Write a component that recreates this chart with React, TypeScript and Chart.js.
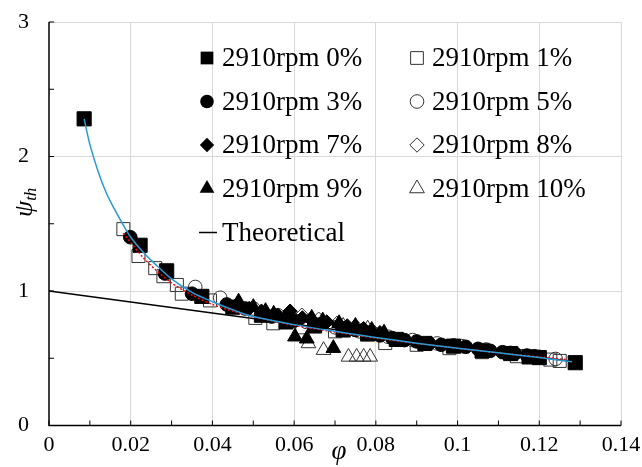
import React, { useEffect, useRef } from "react";
import { Chart, registerables } from "chart.js";

Chart.register(...registerables);

// ---- data ----
const xTicksMajor = [0, 0.02, 0.04, 0.06, 0.08, 0.1, 0.12, 0.14];
const yTicksMajor = [0, 1, 2, 3];

const rpm0: [number, number][] = [
  [0.0086, 2.28], [0.0223, 1.34], [0.0288, 1.15], [0.0374, 0.96], [0.045, 0.88],
  [0.052, 0.82], [0.058, 0.77], [0.065, 0.74], [0.072, 0.71], [0.078, 0.68],
  [0.085, 0.64], [0.092, 0.61], [0.099, 0.59], [0.106, 0.555], [0.113, 0.535],
  [0.1175, 0.51], [0.12, 0.505], [0.1288, 0.467],
];
const rpm1: [number, number][] = [
  [0.0182, 1.46], [0.0219, 1.26], [0.026, 1.17], [0.028, 1.11], [0.0313, 1.045],
  [0.0325, 0.98], [0.0394, 0.93], [0.0505, 0.8], [0.0549, 0.76], [0.062, 0.73],
  [0.07, 0.7], [0.0823, 0.613], [0.09, 0.6], [0.098, 0.575], [0.106, 0.545],
  [0.1145, 0.515], [0.1227, 0.49], [0.125, 0.48],
];
const rpm3: [number, number][] = [
  [0.0199, 1.4], [0.0284, 1.13], [0.035, 0.98], [0.0435, 0.9], [0.048, 0.87],
  [0.0545, 0.81], [0.06, 0.78], [0.066, 0.75], [0.072, 0.72], [0.075, 0.71],
  [0.078, 0.69], [0.081, 0.67], [0.084, 0.65], [0.087, 0.635], [0.09, 0.625],
  [0.093, 0.61], [0.096, 0.6], [0.099, 0.595], [0.102, 0.585], [0.105, 0.57],
  [0.108, 0.555], [0.111, 0.545], [0.114, 0.535], [0.117, 0.52], [0.12, 0.51],
];
const rpm5: [number, number][] = [
  [0.0358, 1.03], [0.0419, 0.95], [0.05, 0.87], [0.056, 0.82], [0.063, 0.77],
  [0.07, 0.73], [0.076, 0.7], [0.083, 0.66], [0.089, 0.635], [0.095, 0.61],
  [0.101, 0.59], [0.107, 0.565], [0.113, 0.54], [0.119, 0.515], [0.124, 0.495],
];
const rpm7: [number, number][] = [
  [0.046, 0.9], [0.049, 0.87], [0.052, 0.85], [0.056, 0.82], [0.059, 0.85],
  [0.062, 0.8], [0.064, 0.79], [0.068, 0.77], [0.071, 0.75], [0.073, 0.74],
  [0.077, 0.72], [0.081, 0.69],
];
const rpm8: [number, number][] = [
  [0.0619, 0.82], [0.066, 0.79], [0.0705, 0.76], [0.075, 0.74], [0.079, 0.71],
];
const rpm9: [number, number][] = [
  [0.0464, 0.92], [0.05, 0.88], [0.053, 0.85], [0.055, 0.83], [0.058, 0.81],
  [0.0602, 0.66], [0.0631, 0.645], [0.0643, 0.8], [0.067, 0.78], [0.0696, 0.575],
  [0.071, 0.76], [0.075, 0.74], [0.079, 0.71], [0.082, 0.69],
];
const rpm10: [number, number][] = [
  [0.0635, 0.61], [0.0672, 0.56], [0.072, 0.74], [0.0733, 0.51], [0.0753, 0.51],
  [0.077, 0.51], [0.078, 0.72], [0.0786, 0.51],
];
const blueCurve: [number, number][] = [
  [0.0086, 2.28], [0.01, 2.09], [0.012, 1.89], [0.014, 1.73], [0.016, 1.61],
  [0.018, 1.5], [0.02, 1.4], [0.023, 1.29], [0.026, 1.2], [0.03, 1.09],
  [0.035, 0.99], [0.04, 0.92], [0.045, 0.86], [0.05, 0.81], [0.06, 0.75],
  [0.07, 0.7], [0.08, 0.655], [0.09, 0.612], [0.1, 0.575], [0.11, 0.54],
  [0.12, 0.505], [0.128, 0.474],
];
const redCurve: [number, number][] = [
  [0.0182, 1.43], [0.02, 1.36], [0.023, 1.25], [0.026, 1.16], [0.03, 1.06],
  [0.035, 0.97], [0.04, 0.9], [0.045, 0.85], [0.05, 0.81], [0.06, 0.745],
  [0.07, 0.695], [0.08, 0.65], [0.09, 0.61], [0.1, 0.575], [0.11, 0.54],
  [0.12, 0.51], [0.1268, 0.49],
];
const theoretical: [number, number][] = [[0, 1], [0.128, 0.475]];

const seriesLabels = [
  "2910rpm 0%", "2910rpm 1%", "2910rpm 3%", "2910rpm 5%",
  "2910rpm 7%", "2910rpm 8%", "2910rpm 9%", "2910rpm 10%", "Theoretical",
];

const toPts = (a: [number, number][]) => a.map(([x, y]) => ({ x, y }));

const FONT = "'Liberation Serif', 'Times New Roman', serif";
const OPEN = "#333333";

type MarkerDef = { style: string; filled: boolean; r: number };
const markers: MarkerDef[] = [
  { style: "rect", filled: true, r: 10 },
  { style: "rect", filled: false, r: 9.2 },
  { style: "circle", filled: true, r: 6.8 },
  { style: "circle", filled: false, r: 6.8 },
  { style: "rectRot", filled: true, r: 7.2 },
  { style: "rectRot", filled: false, r: 7.2 },
  { style: "triangle", filled: true, r: 8.5 },
  { style: "triangle", filled: false, r: 8.5 },
];

function drawMarker(ctx: CanvasRenderingContext2D, m: MarkerDef, x: number, y: number, r: number) {
  ctx.save();
  ctx.beginPath();
  if (m.style === "rect") {
    const s = r * Math.SQRT1_2;
    ctx.rect(x - s, y - s, 2 * s, 2 * s);
  } else if (m.style === "circle") {
    ctx.arc(x, y, r, 0, Math.PI * 2);
  } else if (m.style === "rectRot") {
    ctx.moveTo(x - r, y);
    ctx.lineTo(x, y - r);
    ctx.lineTo(x + r, y);
    ctx.lineTo(x, y + r);
    ctx.closePath();
  } else if (m.style === "triangle") {
    ctx.moveTo(x, y - r);
    ctx.lineTo(x + r * 0.866, y + r * 0.5);
    ctx.lineTo(x - r * 0.866, y + r * 0.5);
    ctx.closePath();
  }
  if (m.filled) {
    ctx.fillStyle = "#000";
    ctx.fill();
  } else {
    ctx.strokeStyle = OPEN;
    ctx.lineWidth = 1;
    ctx.stroke();
  }
  ctx.restore();
}

const decorPlugin = {
  id: "decor",
  afterDraw(chart: any) {
    const ctx: CanvasRenderingContext2D = chart.ctx;
    const xs = chart.scales.x;
    const ys = chart.scales.y;
    const { left, right, top, bottom } = chart.chartArea;
    ctx.save();
    // axis lines
    ctx.strokeStyle = "#000";
    ctx.lineWidth = 1.5;
    ctx.beginPath();
    ctx.moveTo(left, top);
    ctx.lineTo(left, bottom);
    ctx.lineTo(right, bottom);
    ctx.stroke();
    // inward tick marks
    ctx.lineWidth = 1;
    xs.ticks.forEach((t: any) => {
      const px = xs.getPixelForValue(t.value);
      ctx.beginPath();
      ctx.moveTo(px, bottom);
      ctx.lineTo(px, bottom - 5);
      ctx.stroke();
    });
    ys.ticks.forEach((t: any) => {
      const py = ys.getPixelForValue(t.value);
      ctx.beginPath();
      ctx.moveTo(left, py);
      ctx.lineTo(left + 5, py);
      ctx.stroke();
    });

    // legend
    const rowY = [58, 101.5, 145, 188.5, 232.5];
    const colMarkX = [207, 417];
    const colTextX = [222, 432];
    ctx.font = `27px ${FONT}`;
    ctx.fillStyle = "#000";
    ctx.textBaseline = "middle";
    ctx.textAlign = "left";
    for (let i = 0; i < 8; i++) {
      const row = Math.floor(i / 2);
      const col = i % 2;
      const m = markers[i];
      drawMarker(ctx, m, colMarkX[col], rowY[row], m.style === "rect" ? 9 : m.r);
      ctx.fillText(seriesLabels[i], colTextX[col], rowY[row] + 1);
    }
    ctx.strokeStyle = "#000";
    ctx.lineWidth = 1.5;
    ctx.beginPath();
    ctx.moveTo(199, rowY[4]);
    ctx.lineTo(217, rowY[4]);
    ctx.stroke();
    ctx.fillText(seriesLabels[8], colTextX[0], rowY[4] + 1);

    // x title
    ctx.font = `italic 27px ${FONT}`;
    ctx.textAlign = "center";
    ctx.textBaseline = "alphabetic";
    ctx.fillText("\u03c6", 339, 459);

    // y title
    ctx.save();
    ctx.translate(32, 217);
    ctx.rotate(-Math.PI / 2);
    ctx.textAlign = "left";
    ctx.font = `italic 26px ${FONT}`;
    ctx.fillText("\u03c8", 0, 0);
    const w = ctx.measureText("\u03c8").width;
    ctx.font = `italic 17px ${FONT}`;
    ctx.fillText("th", w, 4);
    ctx.restore();

    ctx.restore();
  },
};

export default function App() {
  const ref = useRef<HTMLCanvasElement | null>(null);
  useEffect(() => {
    document.body.style.margin = "0";
    const canvas = ref.current!;
    const scatter = (data: [number, number][], i: number, order: number) => {
      const m = markers[i];
      return {
        label: seriesLabels[i],
        data: toPts(data),
        showLine: false,
        pointStyle: m.style,
        pointRadius: m.r,
        pointHoverRadius: m.r,
        pointBackgroundColor: m.filled ? "#000" : "rgba(0,0,0,0)",
        pointBorderColor: m.filled ? "#000" : OPEN,
        pointBorderWidth: 1,
        order,
      };
    };
    const line = (data: [number, number][], color: string, dash: number[], order: number, label: string) => ({
      label,
      data: toPts(data),
      showLine: true,
      borderColor: color,
      borderWidth: 1.5,
      borderDash: dash,
      pointRadius: 0,
      pointHoverRadius: 0,
      tension: 0.3,
      fill: false,
      order,
    });
    const chart = new Chart(canvas, {
      type: "scatter",
      data: {
        datasets: [
          line(blueCurve, "#2a9ad6", [], 0, "fit"),
          line(redCurve, "#ff0000", [2, 2], 0, "fit2"),
          line(theoretical, "#000000", [], 3, seriesLabels[8]),
          scatter(rpm0, 0, 1),
          scatter(rpm1, 1, 2),
          scatter(rpm3, 2, 1),
          scatter(rpm5, 3, 2),
          scatter(rpm7, 4, 1),
          scatter(rpm8, 5, 2),
          scatter(rpm9, 6, 1),
          scatter(rpm10, 7, 2),
        ] as any,
      },
      options: {
        animation: false,
        responsive: false,
        events: [],
        layout: { padding: { top: 22, right: 21, left: 0, bottom: 0 } },
        plugins: { legend: { display: false }, tooltip: { enabled: false } },
        scales: {
          x: {
            type: "linear",
            min: 0,
            max: 0.14,
            afterFit: (s: any) => { s.height = 41.5; s.paddingLeft = 0; s.paddingRight = 0; },
            border: { display: false },
            grid: {
              drawTicks: false,
              color: (c: any) => {
                const v = c.tick ? c.tick.value : 0;
                return xTicksMajor.some((m) => Math.abs(m - v) < 1e-6) && v > 1e-6 ? "#d9d9d9" : "rgba(0,0,0,0)";
              },
              lineWidth: 1,
            },
            ticks: {
              stepSize: 0.01,
              autoSkip: false,
              maxRotation: 0,
              padding: 7,
              color: "#000",
              font: { family: FONT, size: 22 },
              callback: (v: any) => {
                const n = Number(v);
                return xTicksMajor.some((m) => Math.abs(m - n) < 1e-6) ? String(Number(n.toFixed(2))) : "";
              },
            },
          },
          y: {
            type: "linear",
            min: 0,
            max: 3,
            afterFit: (s: any) => { s.width = 49; s.paddingTop = 0; s.paddingBottom = 0; },
            border: { display: false },
            grid: {
              drawTicks: false,
              color: (c: any) => {
                const v = c.tick ? c.tick.value : 0;
                return yTicksMajor.some((m) => Math.abs(m - v) < 1e-6) && v > 1e-6 ? "#d9d9d9" : "rgba(0,0,0,0)";
              },
              lineWidth: 1,
            },
            ticks: {
              stepSize: 0.5,
              autoSkip: false,
              padding: 20,
              color: "#000",
              font: { family: FONT, size: 22 },
              callback: (v: any) => {
                const n = Number(v);
                return yTicksMajor.some((m) => Math.abs(m - n) < 1e-6) ? String(n) : "";
              },
            },
          },
        },
      },
      plugins: [decorPlugin],
    } as any);
    return () => chart.destroy();
  }, []);
  return (
    <div style={{ position: "fixed", left: 0, top: 0, width: 642, height: 467, background: "#fff" }}>
      <canvas ref={ref} width={642} height={467} />
    </div>
  );
}
